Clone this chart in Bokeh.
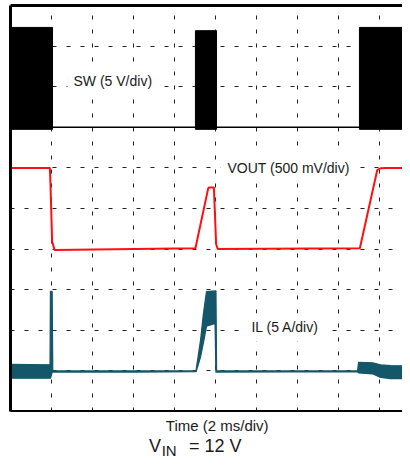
from bokeh.plotting import figure
from bokeh.layouts import column
from bokeh.models import Label, LinearAxis, FixedTicker, ColumnDataSource, Grid
from bokeh.embed import file_html
from bokeh.resources import INLINE

# Time in ms (2 ms/div); vertical values in screen divisions (0 = bottom)
grid_x_ticks = [2, 4, 6, 8, 10, 12, 14, 16, 18]
grid_y_ticks = [1, 2, 3, 4, 5, 6, 7, 8, 9]

# SW: switching bursts (envelope) and the idle level
sw_burst_start = [0.0, 9.02, 17.02]
sw_burst_end = [2.05, 10.05, 19.5]
sw_burst_high = [9.46, 9.38, 9.46]
sw_burst_low = [6.95, 6.95, 6.95]
sw_t = [0.0, 19.5]
sw_v = [7.0, 7.0]

# VOUT (500 mV/div)
vout_t = [0.0, 1.92, 1.95, 2.03, 2.15, 9.02, 9.64, 9.68, 9.92, 10.03, 10.11,
          17.04, 17.89, 18.05, 18.3, 19.5]
vout_v = [6.0, 6.0, 5.6, 4.19, 3.98, 4.02, 5.49, 5.52, 5.52, 4.12, 4.0,
          4.02, 5.95, 5.99, 6.0, 6.0]

# IL (5 A/div): lower / upper envelope of the ripple
il_t = [0.0, 1.93, 1.95, 2.03, 2.06, 5.4, 6.0, 9.05, 9.27, 9.41, 9.56, 9.98,
        10.02, 10.05, 16.93, 16.98, 17.66, 18.05, 18.54, 19.5]
il_lo = [0.82, 0.82, 0.82, 0.97, 0.97, 0.97, 0.97, 0.98, 1.35, 1.7, 2.1, 2.17,
         0.97, 0.97, 0.98, 0.95, 0.93, 0.84, 0.81, 0.81]
il_hi = [1.16, 1.15, 2.96, 2.96, 1.0, 1.0, 1.0, 1.0, 1.75, 2.4, 2.95, 2.97,
         2.97, 1.0, 1.0, 1.21, 1.2, 1.15, 1.13, 1.12]

TEAL = "#14566a"
RED = "#ff1010"
FONT = "Liberation Sans"
TXT = "#1a1a1a"

p = figure(width=402, height=412, x_range=(0, 19.12), y_range=(0, 10),
           output_backend="svg", toolbar_location=None,
           x_axis_type=None, y_axis_type=None,
           min_border_left=10, min_border_right=0, min_border_top=5,
           min_border_bottom=1)
p.outline_line_color = None

for place in ("below", "left", "above"):
    ax = LinearAxis(ticker=FixedTicker(ticks=[]), axis_line_width=3,
                    axis_line_color="black", major_tick_line_color=None,
                    minor_tick_line_color=None, major_tick_in=0, major_tick_out=0,
                    major_label_standoff=0, major_label_text_font_size="0px")
    p.add_layout(ax, place)

gx = Grid(dimension=0, ticker=FixedTicker(ticks=grid_x_ticks),
          grid_line_color="#222222", grid_line_dash="4 10", grid_line_width=1)
gy = Grid(dimension=1, ticker=FixedTicker(ticks=grid_y_ticks),
          grid_line_color="#222222", grid_line_dash="4 10", grid_line_width=1)
p.add_layout(gx)
p.add_layout(gy)

# SW
p.line(sw_t, sw_v, line_color="black", line_width=1.5)
p.quad(left=sw_burst_start, right=sw_burst_end, bottom=sw_burst_low,
       top=sw_burst_high, fill_color="black", line_color="black")

# VOUT
p.line(vout_t, vout_v, line_color=RED, line_width=2)

# IL
src = ColumnDataSource(dict(t=il_t, lo=il_lo, hi=il_hi))
p.varea(x="t", y1="lo", y2="hi", source=src, fill_color=TEAL)
p.line("t", "lo", source=src, line_color=TEAL, line_width=1.3)
p.line("t", "hi", source=src, line_color=TEAL, line_width=1.3)


def lab(fig, x, y, text, size, align="left", baseline="middle", bg=None, pad=0):
    fig.add_layout(Label(x=x, y=y, text=text, text_font=FONT, text_font_size=size,
                         text_color=TXT, text_align=align, text_baseline=baseline,
                         background_fill_color=bg, padding=pad))


lab(p, 2.78, 8.13, "SW (5 V/div)", "14px", bg="white", pad=6)
lab(p, 10.24, 5.99, "VOUT (500 mV/div)", "14px", bg="white", pad=7)
lab(p, 11.46, 2.07, "IL (5 A/div)", "14px", bg="white", pad=6)

# caption strip below the scope screen (coordinates in pixels)
q = figure(width=402, height=48, x_range=(0, 402), y_range=(0, 48),
           output_backend="svg", toolbar_location=None,
           x_axis_type=None, y_axis_type=None, min_border=0)
q.outline_line_color = None
lab(q, 212, 35, "Time (2 ms/div)", "15px", align="center")
lab(q, 142, 15, "V", "18px", baseline="alphabetic")
lab(q, 155, 10, "IN", "15px", baseline="alphabetic")
lab(q, 183, 15, "= 12 V", "18px", baseline="alphabetic")

layout = column(p, q, spacing=0)
open("out.html", "w").write(file_html(layout, INLINE))
